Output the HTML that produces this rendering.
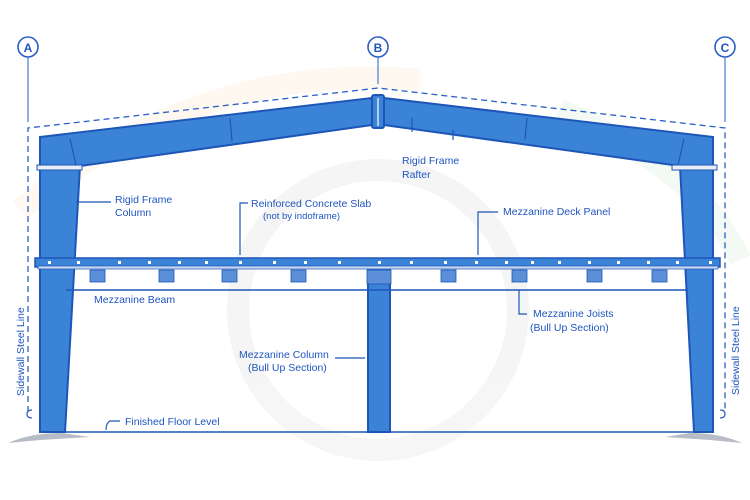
<!DOCTYPE html>
<html><head><meta charset="utf-8"><style>
html,body{margin:0;padding:0;background:#fff;}
svg{display:block;}
text{font-family:"Liberation Sans",sans-serif;fill:#1f55c0;font-size:10.5px;}
</style></head><body>
<svg width="750" height="500" viewBox="0 0 750 500" xmlns="http://www.w3.org/2000/svg">
<rect width="750" height="500" fill="#fff"/>
<g opacity="0.08" fill="none" stroke-width="22">
<circle cx="378" cy="310" r="140" stroke="#8a8a8a"/>
<path d="M20 210 Q200 60 420 80" stroke="#f4a040"/>
<path d="M560 110 Q700 170 740 260" stroke="#6bbf6b"/>
</g>
<g fill="#fff" stroke="#2a5fc7" stroke-width="1.6">
<circle cx="28" cy="47" r="10"/><circle cx="378" cy="47" r="10"/><circle cx="725" cy="47" r="10"/>
</g>
<g font-weight="bold"><text x="28" y="52" text-anchor="middle" style="font-size:12px">A</text><text x="378" y="52" text-anchor="middle" style="font-size:12px">B</text><text x="725" y="52" text-anchor="middle" style="font-size:12px">C</text></g>
<g stroke="#4a7ad0" stroke-width="1.2">
<line x1="28" y1="57" x2="28" y2="122"/><line x1="378" y1="57" x2="378" y2="84"/><line x1="725" y1="57" x2="725" y2="122"/>
</g>
<g stroke="#2a5fc7" stroke-width="1.3" fill="none" stroke-dasharray="6,4">
<path d="M28 412 L28 128 L378 88 L725 128 L725 412"/>
</g>
<path d="M32 410 Q27 410 27 414 Q27 418 32 418" stroke="#2a5fc7" fill="none" stroke-width="1.2"/>
<path d="M720 410 Q725 410 725 414 Q725 418 720 418" stroke="#2a5fc7" fill="none" stroke-width="1.2"/>
<g fill="#3b83d6" stroke="#1d56b8" stroke-width="2">
<path d="M40 137 L372 98 L372 125 L80 166 L65 432 L40 432 Z"/>
<path d="M713 137 L384 98 L384 125 L680 166 L694 432 L713 432 Z"/>
<rect x="372" y="95" width="12" height="33" rx="2"/>
<rect x="368" y="268" width="22" height="164"/>
</g>
<g stroke="#1d56b8" stroke-width="1.2">
<line x1="70" y1="139" x2="76" y2="165"/><line x1="230" y1="118" x2="232" y2="141"/>
<line x1="527" y1="118" x2="525" y2="140"/><line x1="684" y1="139" x2="678" y2="165"/>
<line x1="378" y1="98" x2="378" y2="126" stroke="#fff"/>
</g>
<g fill="#e8eef8" stroke="#1d56b8" stroke-width="1">
<rect x="37" y="165" width="45" height="5"/><rect x="672" y="165" width="45" height="5"/>
</g>
<rect x="35" y="258" width="685" height="9" fill="#3b83d6" stroke="#1d56b8" stroke-width="1.5"/>
<rect x="38" y="266" width="680" height="3" fill="#c8d8ee" stroke="#1d56b8" stroke-width="0.7"/>
<g fill="#fff">
<rect x="48" y="261" width="3" height="3"/><rect x="77" y="261" width="3" height="3"/><rect x="118" y="261" width="3" height="3"/><rect x="148" y="261" width="3" height="3"/><rect x="178" y="261" width="3" height="3"/><rect x="205" y="261" width="3" height="3"/><rect x="239" y="261" width="3" height="3"/><rect x="273" y="261" width="3" height="3"/><rect x="304" y="261" width="3" height="3"/><rect x="338" y="261" width="3" height="3"/><rect x="378" y="261" width="3" height="3"/><rect x="410" y="261" width="3" height="3"/><rect x="444" y="261" width="3" height="3"/><rect x="475" y="261" width="3" height="3"/><rect x="505" y="261" width="3" height="3"/><rect x="531" y="261" width="3" height="3"/><rect x="558" y="261" width="3" height="3"/><rect x="588" y="261" width="3" height="3"/><rect x="617" y="261" width="3" height="3"/><rect x="647" y="261" width="3" height="3"/><rect x="676" y="261" width="3" height="3"/><rect x="709" y="261" width="3" height="3"/>
</g>
<g fill="#5b8fd8" stroke="#1d56b8" stroke-width="0.8">
<rect x="90" y="270" width="15" height="12"/><rect x="159" y="270" width="15" height="12"/><rect x="222" y="270" width="15" height="12"/><rect x="291" y="270" width="15" height="12"/><rect x="367" y="270" width="24" height="14"/><rect x="441" y="270" width="15" height="12"/><rect x="512" y="270" width="15" height="12"/><rect x="587" y="270" width="15" height="12"/><rect x="652" y="270" width="15" height="12"/>
</g>
<line x1="66" y1="290" x2="688" y2="290" stroke="#1d56b8" stroke-width="1.5"/>
<line x1="40" y1="432" x2="713" y2="432" stroke="#1d56b8" stroke-width="1.5"/>
<g fill="#b8bcc6"><path d="M8 443 Q30 433 62 433 L90 437 L40 440 Z"/><path d="M742 443 Q720 433 690 433 L665 437 L710 440 Z"/></g>
<g stroke="#1d56b8" stroke-width="1.2" fill="none">
<path d="M111 202 L76 202"/><path d="M248 203 L240 203 L240 255"/>
<path d="M498 212 L478 212 L478 255"/>
<path d="M412 132 L412 118"/><path d="M453 140 L453 130"/>
<path d="M519 290 L519 314 L527 314"/>
<path d="M335 358 L365 358"/>
<path d="M120 421 L110 421 Q106 423 106 430"/>
</g>
<text x="115" y="203">Rigid Frame</text><text x="115" y="216">Column</text>
<text x="251" y="207">Reinforced Concrete Slab</text><text x="263" y="219" style="font-size:9.5px">(not by indoframe)</text>
<text x="503" y="215">Mezzanine Deck Panel</text>
<text x="402" y="164">Rigid Frame</text><text x="402" y="178">Rafter</text>
<text x="94" y="303">Mezzanine Beam</text>
<text x="533" y="317">Mezzanine Joists</text><text x="530" y="331">(Bull Up Section)</text>
<text x="239" y="358">Mezzanine Column</text><text x="248" y="371">(Bull Up Section)</text>
<text x="125" y="425">Finished Floor Level</text>
<text transform="translate(24,396) rotate(-90)">Sidewall Steel Line</text>
<text transform="translate(739,395) rotate(-90)">Sidewall Steel Line</text>
</svg>
</body></html>
